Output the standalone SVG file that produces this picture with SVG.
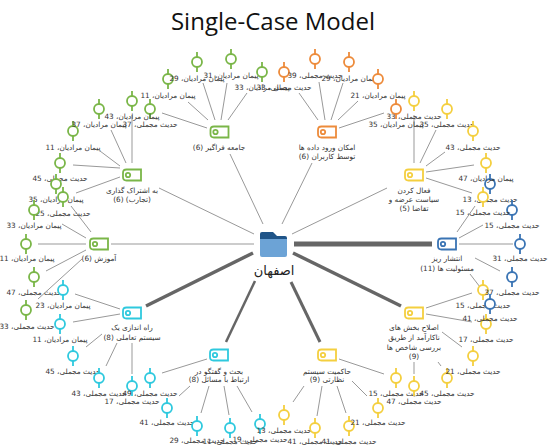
<svg xmlns="http://www.w3.org/2000/svg" width="550" height="445" viewBox="0 0 550 445">
<style>
text{font-family:"DejaVu Sans",sans-serif;font-size:7.300px;fill:#333;stroke:none;text-anchor:middle;direction:rtl}
.title{font-family:"Open Sans",sans-serif;font-size:24px;fill:#111;direction:ltr}
.hub{font-size:13px;fill:#222}
.e{fill:none;stroke:#999;stroke-width:1}
.h{fill:none;stroke:#666}
.gr{stroke:#7AB648;stroke-width:1.800}.or{stroke:#ED8B3B;stroke-width:1.800}.ye{stroke:#F4CF3F;stroke-width:1.800}.bl{stroke:#3A74B4;stroke-width:1.800}.cy{stroke:#2FC9DE;stroke-width:1.800}
</style>
<defs>
<g id="leaf"><path d="M0-10V-5M0 5V10" fill="none"/><circle r="5" fill="#fff"/></g>
<g id="tag"><path d="M-5.500-5.500H9V5.500H-5.500Q-9 5.500-9 2V-2Q-9-5.500-5.500-5.500Z" fill="#fff"/><circle cx="-4" r="2.200" fill="#fff"/></g>
</defs>
<text class="title" x="273" y="30">Single-Case Model</text>
<g id="connectors">
<path class="e" d="M188 102L208 120M203 83L215 120M227 83L221 120M247 93L228 120M162 113L207 128M230 154L263 224"/>
<path class="e" d="M100 151L120 166M111 130L126 163M132 115V163M73 165L120 168M76 193L120 177M159 188L254 234"/>
<path class="e" d="M111 244H254M38 244H86M46 271L86 250M38 299L82 259M62 224L86 238M71 206L91 232"/>
<path class="e" d="M75 294L120 309M73 322L120 314M86 347L102 334M106 366L117 343M132 343V374"/>
<path class="e" d="M162 373L207 359M179 396L190 386M201 413L209 386M229 415L224 386M252 412L237 386"/>
<path class="e" d="M339 359L384 374M352 381L367 396M337 386L346 413M322 386L317 416M304 386L293 402"/>
<path class="e" d="M426 308L472 293M426 314L472 322M442 332L462 347M438 362L441 366M414 362V374"/>
<path class="e" d="M459 244H513M475 258L500 271M470 274L480 287M457 232L475 206M459 238L483 225"/>
<path class="e" d="M414 115V163M436 130L420 163M445 152L426 166M474 165L426 172M472 193L426 178M292 234L387 188"/>
<path class="e" d="M299 93L318 120M319 82L325 120M343 83L331 120M358 101L338 120M384 113L339 128M312 163L282 224"/>
<path class="h" stroke-width="3.500" d="M146 306L253 253"/>
<path class="h" stroke-width="2.500" d="M226 342L255 281"/>
<path class="h" stroke-width="3" d="M291 282L320 342"/>
<path class="h" stroke-width="3.500" d="M293 253L401 306"/>
<path class="h" stroke-width="5" d="M294 244H432"/>
</g>
<g id="hub"><path d="M260 238V234Q260 232 262 232H273L279 238Z" fill="#1F5488"/><path d="M260 238H287V255Q287 257 285 257H262Q260 257 260 255Z" fill="#6CA3D6"/><path d="M272 236H285Q287 236 287 238V239H260V238Z" fill="#1F5488"/><text class="hub" x="274" y="275">اصفهان</text></g>

<g id="n1" class="gr"><use href="#tag" x="219.500" y="132"/><text x="219" y="150">جامعه فراگیر (6)</text></g>
<g id="n2" class="gr"><use href="#tag" x="132" y="175"/><text x="132" y="193">به اشتراک گذاری</text><text x="132" y="202">(تجارب) (6)</text></g>
<g id="n3" class="gr"><use href="#tag" x="99" y="244"/><text x="99" y="261">آموزش (6)</text></g>
<g id="n4" class="cy"><use href="#tag" x="132" y="313"/><text x="132" y="330">راه اندازی یک</text><text x="132" y="340">سیستم تعاملی (8)</text></g>
<g id="n5" class="cy"><use href="#tag" x="219" y="355"/><text x="219" y="374">بحث و گفتگو در</text><text x="219" y="382">ارتباط با مسائل (8)</text></g>
<g id="n6" class="ye"><use href="#tag" x="327" y="355"/><text x="327" y="374">حاکمیت سیستم</text><text x="327" y="382">نظارتی (9)</text></g>
<g id="n7" class="ye"><use href="#tag" x="414" y="313"/><text x="414" y="330">اصلاح بخش های</text><text x="414" y="340">ناکارآمد از طریق</text><text x="414" y="350">بررسی شاخص ها</text><text x="414" y="359">(9)</text></g>
<g id="n8" class="bl"><use href="#tag" x="447" y="244"/><text x="447" y="261">انتشار ریز</text><text x="447" y="271">مسئولیت ها (11)</text></g>
<g id="n9" class="ye"><use href="#tag" x="414" y="175"/><text x="414" y="193">فعال کردن</text><text x="414" y="202">سیاست عرضه و</text><text x="414" y="211">تقاضا (5)</text></g>
<g id="n10" class="or"><use href="#tag" x="327" y="132"/><text x="327" y="150">امکان ورود داده ها</text><text x="327" y="159">توسط کاربران (6)</text></g>

<g id="a1" class="gr"><use href="#leaf" x="168" y="79"/><text x="168" y="98">پیمان مرادیان، 11</text></g>
<g id="a2" class="gr"><use href="#leaf" x="197" y="62"/><text x="197" y="81">پیمان مرادیان، 29</text></g>
<g id="a3" class="gr"><use href="#leaf" x="231" y="59"/><text x="231" y="78">پیمان مرادیان، 31</text></g>
<g id="a4" class="gr"><use href="#leaf" x="262" y="72"/><text x="262" y="90">پیمان مرادیان، 33</text></g>
<g id="a5" class="gr"><use href="#leaf" x="150" y="109"/><text x="150" y="127">حدیث مجملی، 37</text></g>
<g id="b1" class="gr"><use href="#leaf" x="73" y="131"/><text x="73" y="150">پیمان مرادیان، 11</text></g>
<g id="b2" class="gr"><use href="#leaf" x="99" y="109"/><text x="99" y="127">پیمان مرادیان، 37</text></g>
<g id="b3" class="gr"><use href="#leaf" x="132" y="101"/><text x="132" y="119">پیمان مرادیان، 43</text></g>
<g id="b4" class="gr"><use href="#leaf" x="60" y="163"/><text x="60" y="181">حدیث مجملی، 45</text></g>
<g id="b5" class="gr"><use href="#leaf" x="56" y="184"/><text x="56" y="202">پیمان مرادیان، 35</text></g>
<g id="c1" class="gr"><use href="#leaf" x="63" y="197"/><text x="63" y="216">حدیث مجملی، 25</text></g>
<g id="c2" class="gr"><use href="#leaf" x="34" y="210"/><text x="34" y="228">پیمان مرادیان، 33</text></g>
<g id="c3" class="gr"><use href="#leaf" x="26" y="244"/><text x="27" y="261">پیمان مرادیان، 11</text></g>
<g id="c4" class="gr"><use href="#leaf" x="34" y="277"/><text x="34" y="295">حدیث مجملی، 47</text></g>
<g id="c5" class="gr"><use href="#leaf" x="26" y="310"/><text x="27" y="329">حدیث مجملی، 33</text></g>
<g id="d1" class="cy"><use href="#leaf" x="63" y="290"/><text x="63" y="308">پیمان مرادیان، 23</text></g>
<g id="d2" class="cy"><use href="#leaf" x="60" y="324"/><text x="60" y="342">پیمان مرادیان، 11</text></g>
<g id="d3" class="cy"><use href="#leaf" x="73" y="356"/><text x="73" y="374">حدیث مجملی، 45</text></g>
<g id="d4" class="cy"><use href="#leaf" x="99" y="378"/><text x="99" y="396">حدیث مجملی، 43</text></g>
<g id="d5" class="cy"><use href="#leaf" x="132" y="386"/><text x="132" y="404">حدیث مجملی، 17</text></g>
<g id="e1" class="cy"><use href="#leaf" x="150" y="378"/><text x="150" y="396">حدیث مجملی، 49</text></g>
<g id="e2" class="cy"><use href="#leaf" x="167" y="408"/><text x="167" y="425">حدیث مجملی، 41</text></g>
<g id="e3" class="cy"><use href="#leaf" x="197" y="426"/><text x="197" y="443">حدیث مجملی، 29</text></g>
<g id="e4" class="cy"><use href="#leaf" x="230" y="428"/><text x="230" y="444">حدیث مجملی، 11</text></g>
<g id="e5" class="cy"><use href="#leaf" x="260" y="424"/><text x="260" y="442">حدیث مجملی، 19</text></g>
<g id="f1" class="ye"><use href="#leaf" x="284" y="415"/><text x="284" y="433">حدیث مجملی، 13</text></g>
<g id="f2" class="ye"><use href="#leaf" x="315" y="428"/><text x="315" y="444">حدیث مجملی، 41</text></g>
<g id="f3" class="ye"><use href="#leaf" x="349" y="426"/><text x="349" y="444">حدیث مجملی، 41</text></g>
<g id="f4" class="ye"><use href="#leaf" x="378" y="408"/><text x="378" y="425">حدیث مجملی، 21</text></g>
<g id="f5" class="ye"><use href="#leaf" x="396" y="378"/><text x="396" y="396">حدیث مجملی، 15</text></g>
<g id="g1" class="ye"><use href="#leaf" x="414" y="386"/><text x="414" y="404">حدیث مجملی، 47</text></g>
<g id="g2" class="ye"><use href="#leaf" x="447" y="378"/><text x="447" y="396">حدیث مجملی، 45</text></g>
<g id="g3" class="ye"><use href="#leaf" x="473" y="356"/><text x="473" y="374">حدیث مجملی، 21</text></g>
<g id="g4" class="ye"><use href="#leaf" x="486" y="324"/><text x="486" y="342">حدیث مجملی، 17</text></g>
<g id="g5" class="ye"><use href="#leaf" x="483" y="290"/><text x="483" y="308">حدیث مجملی، 15</text></g>
<g id="h1" class="bl"><use href="#leaf" x="520" y="244"/><text x="520" y="261">حدیث مجملی، 31</text></g>
<g id="h2" class="bl"><use href="#leaf" x="512" y="277"/><text x="512" y="295">حدیث مجملی، 37</text></g>
<g id="h3" class="bl"><use href="#leaf" x="490" y="304"/><text x="490" y="321">حدیث مجملی، 41</text></g>
<g id="h4" class="bl"><use href="#leaf" x="490" y="184"/><text x="490" y="202">حدیث مجملی، 13</text></g>
<g id="h5" class="bl"><use href="#leaf" x="512" y="210"/><text x="512" y="228">حدیث مجملی، 15</text></g>
<g id="i1" class="ye"><use href="#leaf" x="414" y="101"/><text x="414" y="119">حدیث مجملی، 33</text></g>
<g id="i2" class="ye"><use href="#leaf" x="447" y="109"/><text x="447" y="127">حدیث مجملی، 35</text></g>
<g id="i3" class="ye"><use href="#leaf" x="473" y="131"/><text x="473" y="150">حدیث مجملی، 43</text></g>
<g id="i4" class="ye"><use href="#leaf" x="486" y="163"/><text x="486" y="181">پیمان مرادیان، 47</text></g>
<g id="i5" class="ye"><use href="#leaf" x="483" y="197"/><text x="483" y="215">حدیث مجملی، 15</text></g>
<g id="j1" class="or"><use href="#leaf" x="284" y="72"/><text x="284" y="90">حدیث مجملی، 33</text></g>
<g id="j2" class="or"><use href="#leaf" x="315" y="59"/><text x="315" y="78">حدیث مجملی، 39</text></g>
<g id="j3" class="or"><use href="#leaf" x="349" y="62"/><text x="349" y="81">پیمان مرادیان، 29</text></g>
<g id="j4" class="or"><use href="#leaf" x="378" y="79"/><text x="378" y="98">پیمان مرادیان، 21</text></g>
<g id="j5" class="or"><use href="#leaf" x="396" y="109"/><text x="396" y="127">پیمان مرادیان، 35</text></g>
</svg>
